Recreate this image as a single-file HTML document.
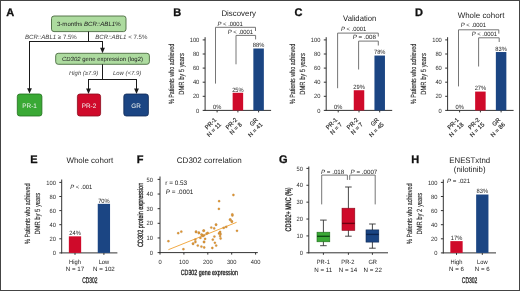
<!DOCTYPE html>
<html><head><meta charset="utf-8"><style>
html,body{margin:0;padding:0;background:#fff;}
body{width:520px;height:291px;overflow:hidden;}
svg{display:block;will-change:transform;font-family:"Liberation Sans",sans-serif;}
</style></head><body>
<svg text-rendering="geometricPrecision" width="520" height="291" viewBox="0 0 520 291">
<rect x="0" y="0" width="520" height="291" fill="#fff"/>
<text x="6.3" y="15.9" font-size="11" text-anchor="start" font-weight="bold" font-style="normal" fill="#111" stroke="#111" stroke-width="0.3">A</text>
<rect x="51.5" y="16" width="74.5" height="15.6" fill="#addb9f" stroke="#4a6a40" stroke-width="0.9" rx="2.5"/>
<text x="88.8" y="26.2" font-size="6.1" text-anchor="middle" fill="#222">3-months <tspan font-style="italic">BCR::ABL1</tspan>%</text>
<line x1="88.5" y1="31.6" x2="88.5" y2="41.5" stroke="#1a1a1a" stroke-width="1"/>
<line x1="29" y1="41.5" x2="103" y2="41.5" stroke="#1a1a1a" stroke-width="1"/>
<line x1="29.5" y1="41.5" x2="29.5" y2="89.6" stroke="#1a1a1a" stroke-width="1"/>
<path d="M27.1,88.19999999999999 L31.9,88.19999999999999 L29.5,93.6 Z" fill="#1a1a1a"/>
<line x1="102.5" y1="41.5" x2="102.5" y2="49.2" stroke="#1a1a1a" stroke-width="1"/>
<path d="M100.1,47.800000000000004 L104.9,47.800000000000004 L102.5,53.2 Z" fill="#1a1a1a"/>
<text x="25" y="39.4" font-size="6.1" fill="#444"><tspan font-style="italic">BCR::ABL1</tspan> ≥ 7.5%</text>
<text x="95.3" y="39.4" font-size="6.1" fill="#444"><tspan font-style="italic">BCR::ABL1</tspan> &lt; 7.5%</text>
<rect x="55.7" y="53.3" width="93.7" height="11" fill="#addb9f" stroke="#4a6a40" stroke-width="0.9" rx="2.5"/>
<text x="102.5" y="61.2" font-size="5.97" text-anchor="middle" fill="#222"><tspan font-style="italic">CD302</tspan> gene expression (log2)</text>
<line x1="102.5" y1="64.3" x2="102.5" y2="79.5" stroke="#1a1a1a" stroke-width="1"/>
<line x1="88" y1="79.5" x2="137" y2="79.5" stroke="#1a1a1a" stroke-width="1"/>
<line x1="88.5" y1="79.5" x2="88.5" y2="89.9" stroke="#1a1a1a" stroke-width="1"/>
<path d="M86.1,88.5 L90.9,88.5 L88.5,93.9 Z" fill="#1a1a1a"/>
<line x1="136.5" y1="79.5" x2="136.5" y2="89.9" stroke="#1a1a1a" stroke-width="1"/>
<path d="M134.1,88.5 L138.9,88.5 L136.5,93.9 Z" fill="#1a1a1a"/>
<text x="69" y="74.8" font-size="5.95" text-anchor="start" font-weight="normal" font-style="italic" fill="#444" >High (≥7.9)</text>
<text x="113" y="74.8" font-size="5.95" text-anchor="start" font-weight="normal" font-style="italic" fill="#444" >Low (&lt;7.9)</text>
<rect x="17.3" y="94" width="24.599999999999998" height="22" fill="#3aa935" stroke="#1f6e1c" stroke-width="0.8" rx="2.5"/>
<text x="29.6" y="107.5" font-size="6.4" text-anchor="middle" font-weight="normal" font-style="normal" fill="#f0f4f0" >PR-1</text>
<rect x="77.4" y="94" width="23.19999999999999" height="22" fill="#cf0a2a" stroke="#8a0a1c" stroke-width="0.8" rx="2.5"/>
<text x="89.0" y="107.5" font-size="6.4" text-anchor="middle" font-weight="normal" font-style="normal" fill="#f0f4f0" >PR-2</text>
<rect x="123.8" y="94" width="24.60000000000001" height="22" fill="#1b4583" stroke="#102a55" stroke-width="0.8" rx="2.5"/>
<text x="136.1" y="107.5" font-size="6.4" text-anchor="middle" font-weight="normal" font-style="normal" fill="#f0f4f0" >GR</text>
<text x="173.2" y="15.9" font-size="11" text-anchor="start" font-weight="bold" font-style="normal" fill="#111" stroke="#111" stroke-width="0.3">B</text>
<text transform="translate(221.4,15.8) scale(0.973,1)" font-size="8.1" text-anchor="start" fill="#222">Discovery</text>
<line x1="205.1" y1="37.2" x2="205.1" y2="110.9" stroke="#333" stroke-width="1"/>
<line x1="202.7" y1="110.4" x2="205.1" y2="110.4" stroke="#333" stroke-width="1"/>
<text transform="translate(199.29999999999998,112.5) scale(0.93,1)" font-size="6.2" text-anchor="end" font-weight="normal" font-style="normal" fill="#2e2e2e" >0</text>
<line x1="202.7" y1="96.30000000000001" x2="205.1" y2="96.30000000000001" stroke="#333" stroke-width="1"/>
<text transform="translate(199.29999999999998,98.4) scale(0.93,1)" font-size="6.2" text-anchor="end" font-weight="normal" font-style="normal" fill="#2e2e2e" >20</text>
<line x1="202.7" y1="82.2" x2="205.1" y2="82.2" stroke="#333" stroke-width="1"/>
<text transform="translate(199.29999999999998,84.3) scale(0.93,1)" font-size="6.2" text-anchor="end" font-weight="normal" font-style="normal" fill="#2e2e2e" >40</text>
<line x1="202.7" y1="68.10000000000001" x2="205.1" y2="68.10000000000001" stroke="#333" stroke-width="1"/>
<text transform="translate(199.29999999999998,70.2) scale(0.93,1)" font-size="6.2" text-anchor="end" font-weight="normal" font-style="normal" fill="#2e2e2e" >60</text>
<line x1="202.7" y1="54.00000000000001" x2="205.1" y2="54.00000000000001" stroke="#333" stroke-width="1"/>
<text transform="translate(199.29999999999998,56.10000000000001) scale(0.93,1)" font-size="6.2" text-anchor="end" font-weight="normal" font-style="normal" fill="#2e2e2e" >80</text>
<line x1="202.7" y1="39.900000000000006" x2="205.1" y2="39.900000000000006" stroke="#333" stroke-width="1"/>
<text transform="translate(199.29999999999998,42.00000000000001) scale(0.93,1)" font-size="6.2" text-anchor="end" font-weight="normal" font-style="normal" fill="#2e2e2e" >100</text>
<line x1="204.6" y1="110.4" x2="271.1" y2="110.4" stroke="#333" stroke-width="1"/>
<line x1="217.1" y1="110.4" x2="217.1" y2="112.4" stroke="#333" stroke-width="1"/>
<line x1="237.89999999999998" y1="110.4" x2="237.89999999999998" y2="112.4" stroke="#333" stroke-width="1"/>
<line x1="258.6" y1="110.4" x2="258.6" y2="112.4" stroke="#333" stroke-width="1"/>
<text transform="translate(217.1,109.2) scale(0.93,1)" font-size="6.2" text-anchor="middle" font-weight="normal" font-style="normal" fill="#222" >0%</text>
<rect x="232.64999999999998" y="92.775" width="10.5" height="17.625" fill="#cf0a2a" stroke="none" stroke-width="0" rx="0"/>
<text transform="translate(237.89999999999998,91.575) scale(0.93,1)" font-size="6.2" text-anchor="middle" font-weight="normal" font-style="normal" fill="#222" >25%</text>
<rect x="253.35000000000002" y="48.50100000000001" width="10.5" height="61.898999999999994" fill="#1b4583" stroke="none" stroke-width="0" rx="0"/>
<text transform="translate(258.6,47.30100000000001) scale(0.93,1)" font-size="6.2" text-anchor="middle" font-weight="normal" font-style="normal" fill="#222" >88%</text>
<g transform="translate(217.1,111.9) rotate(-45)"><text x="-6.0" y="5.6" font-size="6.0" text-anchor="end" fill="#2a2a2a" stroke="#2a2a2a" stroke-width="0.15">PR-1</text><text x="-6.0" y="12.3" font-size="6.0" text-anchor="end" fill="#2a2a2a" stroke="#2a2a2a" stroke-width="0.15">N = 11</text></g>
<g transform="translate(237.89999999999998,111.9) rotate(-45)"><text x="-6.0" y="5.6" font-size="6.0" text-anchor="end" fill="#2a2a2a" stroke="#2a2a2a" stroke-width="0.15">PR-2</text><text x="-6.0" y="12.3" font-size="6.0" text-anchor="end" fill="#2a2a2a" stroke="#2a2a2a" stroke-width="0.15">N = 8</text></g>
<g transform="translate(258.6,111.9) rotate(-45)"><text x="-6.0" y="5.6" font-size="6.0" text-anchor="end" fill="#2a2a2a" stroke="#2a2a2a" stroke-width="0.15">GR</text><text x="-6.0" y="12.3" font-size="6.0" text-anchor="end" fill="#2a2a2a" stroke="#2a2a2a" stroke-width="0.15">N = 41</text></g>
<path d="M215.5,83.6 L215.5,27.3 L255.5,27.3 L255.5,31" stroke="#666" stroke-width="0.9" fill="none"/>
<path d="M236,64.3 L236,35.4 L255.6,35.4 L255.6,39.4" stroke="#666" stroke-width="0.9" fill="none"/>
<text transform="translate(217.5,25.8) scale(0.95,1)" font-size="6.2" fill="#222"><tspan font-style="italic">P</tspan> &lt; .0001</text>
<text transform="translate(227.8,33.8) scale(0.95,1)" font-size="6.2" fill="#222"><tspan font-style="italic">P</tspan> &lt; .0001</text>
<text transform="translate(173.6,73.9) rotate(-90)" font-size="7.5" font-weight="normal" text-anchor="middle" textLength="60.4" lengthAdjust="spacingAndGlyphs" fill="#2a2a2a" stroke="#2a2a2a" stroke-width="0.12">% Patients who achieved</text>
<text transform="translate(183.79999999999998,73.9) rotate(-90)" font-size="7.5" font-weight="normal" text-anchor="middle" textLength="41.5" lengthAdjust="spacingAndGlyphs" fill="#2a2a2a" stroke="#2a2a2a" stroke-width="0.12">DMR by 5 years</text>
<text x="294.6" y="15.9" font-size="11" text-anchor="start" font-weight="bold" font-style="normal" fill="#111" stroke="#111" stroke-width="0.3">C</text>
<text transform="translate(343.1,21.2) scale(0.95,1)" font-size="8.1" text-anchor="start" fill="#222">Validation</text>
<line x1="326.2" y1="37.2" x2="326.2" y2="110.9" stroke="#333" stroke-width="1"/>
<line x1="323.8" y1="110.4" x2="326.2" y2="110.4" stroke="#333" stroke-width="1"/>
<text transform="translate(320.4,112.5) scale(0.93,1)" font-size="6.2" text-anchor="end" font-weight="normal" font-style="normal" fill="#2e2e2e" >0</text>
<line x1="323.8" y1="96.30000000000001" x2="326.2" y2="96.30000000000001" stroke="#333" stroke-width="1"/>
<text transform="translate(320.4,98.4) scale(0.93,1)" font-size="6.2" text-anchor="end" font-weight="normal" font-style="normal" fill="#2e2e2e" >20</text>
<line x1="323.8" y1="82.2" x2="326.2" y2="82.2" stroke="#333" stroke-width="1"/>
<text transform="translate(320.4,84.3) scale(0.93,1)" font-size="6.2" text-anchor="end" font-weight="normal" font-style="normal" fill="#2e2e2e" >40</text>
<line x1="323.8" y1="68.10000000000001" x2="326.2" y2="68.10000000000001" stroke="#333" stroke-width="1"/>
<text transform="translate(320.4,70.2) scale(0.93,1)" font-size="6.2" text-anchor="end" font-weight="normal" font-style="normal" fill="#2e2e2e" >60</text>
<line x1="323.8" y1="54.00000000000001" x2="326.2" y2="54.00000000000001" stroke="#333" stroke-width="1"/>
<text transform="translate(320.4,56.10000000000001) scale(0.93,1)" font-size="6.2" text-anchor="end" font-weight="normal" font-style="normal" fill="#2e2e2e" >80</text>
<line x1="323.8" y1="39.900000000000006" x2="326.2" y2="39.900000000000006" stroke="#333" stroke-width="1"/>
<text transform="translate(320.4,42.00000000000001) scale(0.93,1)" font-size="6.2" text-anchor="end" font-weight="normal" font-style="normal" fill="#2e2e2e" >100</text>
<line x1="325.7" y1="110.4" x2="392.2" y2="110.4" stroke="#333" stroke-width="1"/>
<line x1="338.2" y1="110.4" x2="338.2" y2="112.4" stroke="#333" stroke-width="1"/>
<line x1="359.0" y1="110.4" x2="359.0" y2="112.4" stroke="#333" stroke-width="1"/>
<line x1="379.7" y1="110.4" x2="379.7" y2="112.4" stroke="#333" stroke-width="1"/>
<text transform="translate(338.2,109.2) scale(0.93,1)" font-size="6.2" text-anchor="middle" font-weight="normal" font-style="normal" fill="#222" >0%</text>
<rect x="353.75" y="90.23700000000001" width="10.5" height="20.163" fill="#cf0a2a" stroke="none" stroke-width="0" rx="0"/>
<text transform="translate(359.0,89.037) scale(0.93,1)" font-size="6.2" text-anchor="middle" font-weight="normal" font-style="normal" fill="#222" >29%</text>
<rect x="374.45" y="55.55100000000001" width="10.5" height="54.849" fill="#1b4583" stroke="none" stroke-width="0" rx="0"/>
<text transform="translate(379.7,54.351000000000006) scale(0.93,1)" font-size="6.2" text-anchor="middle" font-weight="normal" font-style="normal" fill="#222" >78%</text>
<g transform="translate(338.2,111.9) rotate(-45)"><text x="-6.0" y="5.6" font-size="6.0" text-anchor="end" fill="#2a2a2a" stroke="#2a2a2a" stroke-width="0.15">PR-1</text><text x="-6.0" y="12.3" font-size="6.0" text-anchor="end" fill="#2a2a2a" stroke="#2a2a2a" stroke-width="0.15">N = 7</text></g>
<g transform="translate(359.0,111.9) rotate(-45)"><text x="-6.0" y="5.6" font-size="6.0" text-anchor="end" fill="#2a2a2a" stroke="#2a2a2a" stroke-width="0.15">PR-2</text><text x="-6.0" y="12.3" font-size="6.0" text-anchor="end" fill="#2a2a2a" stroke="#2a2a2a" stroke-width="0.15">N = 7</text></g>
<g transform="translate(379.7,111.9) rotate(-45)"><text x="-6.0" y="5.6" font-size="6.0" text-anchor="end" fill="#2a2a2a" stroke="#2a2a2a" stroke-width="0.15">GR</text><text x="-6.0" y="12.3" font-size="6.0" text-anchor="end" fill="#2a2a2a" stroke="#2a2a2a" stroke-width="0.15">N = 45</text></g>
<path d="M337.6,88.2 L337.6,33.1 L378.3,33.1 L378.3,36.5" stroke="#666" stroke-width="0.9" fill="none"/>
<path d="M358.6,69.5 L358.6,41.1 L378.3,41.1 L378.3,45.5" stroke="#666" stroke-width="0.9" fill="none"/>
<text transform="translate(341,30.9) scale(0.95,1)" font-size="6.2" fill="#222"><tspan font-style="italic">P</tspan> &lt; .0001</text>
<text transform="translate(352.7,39.1) scale(1.0,1)" font-size="6.2" fill="#222"><tspan font-style="italic">P</tspan> = .008</text>
<text transform="translate(294.7,73.9) rotate(-90)" font-size="7.5" font-weight="normal" text-anchor="middle" textLength="60.4" lengthAdjust="spacingAndGlyphs" fill="#2a2a2a" stroke="#2a2a2a" stroke-width="0.12">% Patients who achieved</text>
<text transform="translate(304.9,73.9) rotate(-90)" font-size="7.5" font-weight="normal" text-anchor="middle" textLength="41.5" lengthAdjust="spacingAndGlyphs" fill="#2a2a2a" stroke="#2a2a2a" stroke-width="0.12">DMR by 5 years</text>
<text x="415" y="15.9" font-size="11" text-anchor="start" font-weight="bold" font-style="normal" fill="#111" stroke="#111" stroke-width="0.3">D</text>
<text transform="translate(457.7,18.2) scale(0.98,1)" font-size="8.1" text-anchor="start" fill="#222">Whole cohort</text>
<line x1="447.6" y1="37.2" x2="447.6" y2="110.9" stroke="#333" stroke-width="1"/>
<line x1="445.20000000000005" y1="110.4" x2="447.6" y2="110.4" stroke="#333" stroke-width="1"/>
<text transform="translate(441.8,112.5) scale(0.93,1)" font-size="6.2" text-anchor="end" font-weight="normal" font-style="normal" fill="#2e2e2e" >0</text>
<line x1="445.20000000000005" y1="96.30000000000001" x2="447.6" y2="96.30000000000001" stroke="#333" stroke-width="1"/>
<text transform="translate(441.8,98.4) scale(0.93,1)" font-size="6.2" text-anchor="end" font-weight="normal" font-style="normal" fill="#2e2e2e" >20</text>
<line x1="445.20000000000005" y1="82.2" x2="447.6" y2="82.2" stroke="#333" stroke-width="1"/>
<text transform="translate(441.8,84.3) scale(0.93,1)" font-size="6.2" text-anchor="end" font-weight="normal" font-style="normal" fill="#2e2e2e" >40</text>
<line x1="445.20000000000005" y1="68.10000000000001" x2="447.6" y2="68.10000000000001" stroke="#333" stroke-width="1"/>
<text transform="translate(441.8,70.2) scale(0.93,1)" font-size="6.2" text-anchor="end" font-weight="normal" font-style="normal" fill="#2e2e2e" >60</text>
<line x1="445.20000000000005" y1="54.00000000000001" x2="447.6" y2="54.00000000000001" stroke="#333" stroke-width="1"/>
<text transform="translate(441.8,56.10000000000001) scale(0.93,1)" font-size="6.2" text-anchor="end" font-weight="normal" font-style="normal" fill="#2e2e2e" >80</text>
<line x1="445.20000000000005" y1="39.900000000000006" x2="447.6" y2="39.900000000000006" stroke="#333" stroke-width="1"/>
<text transform="translate(441.8,42.00000000000001) scale(0.93,1)" font-size="6.2" text-anchor="end" font-weight="normal" font-style="normal" fill="#2e2e2e" >100</text>
<line x1="447.1" y1="110.4" x2="513.6" y2="110.4" stroke="#333" stroke-width="1"/>
<line x1="459.6" y1="110.4" x2="459.6" y2="112.4" stroke="#333" stroke-width="1"/>
<line x1="480.40000000000003" y1="110.4" x2="480.40000000000003" y2="112.4" stroke="#333" stroke-width="1"/>
<line x1="501.1" y1="110.4" x2="501.1" y2="112.4" stroke="#333" stroke-width="1"/>
<text transform="translate(459.6,109.2) scale(0.93,1)" font-size="6.2" text-anchor="middle" font-weight="normal" font-style="normal" fill="#222" >0%</text>
<rect x="475.15000000000003" y="91.57650000000001" width="10.5" height="18.8235" fill="#cf0a2a" stroke="none" stroke-width="0" rx="0"/>
<text transform="translate(480.40000000000003,90.37650000000001) scale(0.93,1)" font-size="6.2" text-anchor="middle" font-weight="normal" font-style="normal" fill="#222" >27%</text>
<rect x="495.85" y="52.02600000000001" width="10.5" height="58.373999999999995" fill="#1b4583" stroke="none" stroke-width="0" rx="0"/>
<text transform="translate(501.1,50.82600000000001) scale(0.93,1)" font-size="6.2" text-anchor="middle" font-weight="normal" font-style="normal" fill="#222" >83%</text>
<g transform="translate(459.6,111.9) rotate(-45)"><text x="-6.0" y="5.6" font-size="6.0" text-anchor="end" fill="#2a2a2a" stroke="#2a2a2a" stroke-width="0.15">PR-1</text><text x="-6.0" y="12.3" font-size="6.0" text-anchor="end" fill="#2a2a2a" stroke="#2a2a2a" stroke-width="0.15">N = 18</text></g>
<g transform="translate(480.40000000000003,111.9) rotate(-45)"><text x="-6.0" y="5.6" font-size="6.0" text-anchor="end" fill="#2a2a2a" stroke="#2a2a2a" stroke-width="0.15">PR-2</text><text x="-6.0" y="12.3" font-size="6.0" text-anchor="end" fill="#2a2a2a" stroke="#2a2a2a" stroke-width="0.15">N = 15</text></g>
<g transform="translate(501.1,111.9) rotate(-45)"><text x="-6.0" y="5.6" font-size="6.0" text-anchor="end" fill="#2a2a2a" stroke="#2a2a2a" stroke-width="0.15">GR</text><text x="-6.0" y="12.3" font-size="6.0" text-anchor="end" fill="#2a2a2a" stroke="#2a2a2a" stroke-width="0.15">N = 86</text></g>
<path d="M458.5,86.4 L458.5,29.8 L498.8,29.8 L498.8,33.6" stroke="#666" stroke-width="0.9" fill="none"/>
<path d="M478.6,66.5 L478.6,37.8 L499.2,37.8 L499.2,42" stroke="#666" stroke-width="0.9" fill="none"/>
<text transform="translate(460.8,27.4) scale(0.95,1)" font-size="6.2" fill="#222"><tspan font-style="italic">P</tspan> &lt; .0001</text>
<text transform="translate(471.7,35.5) scale(0.95,1)" font-size="6.2" fill="#222"><tspan font-style="italic">P</tspan> &lt; .0001</text>
<text transform="translate(416.1,73.9) rotate(-90)" font-size="7.5" font-weight="normal" text-anchor="middle" textLength="60.4" lengthAdjust="spacingAndGlyphs" fill="#2a2a2a" stroke="#2a2a2a" stroke-width="0.12">% Patients who achieved</text>
<text transform="translate(426.3,73.9) rotate(-90)" font-size="7.5" font-weight="normal" text-anchor="middle" textLength="41.5" lengthAdjust="spacingAndGlyphs" fill="#2a2a2a" stroke="#2a2a2a" stroke-width="0.12">DMR by 5 years</text>
<text x="30.3" y="162.5" font-size="11" text-anchor="start" font-weight="bold" font-style="normal" fill="#111" stroke="#111" stroke-width="0.3">E</text>
<text transform="translate(89.8,162.6) scale(0.98,1)" font-size="8.1" text-anchor="middle" fill="#222">Whole cohort</text>
<line x1="61.7" y1="179.5" x2="61.7" y2="253.4" stroke="#333" stroke-width="1"/>
<line x1="59.300000000000004" y1="252.9" x2="61.7" y2="252.9" stroke="#333" stroke-width="1"/>
<text transform="translate(55.900000000000006,255.0) scale(0.93,1)" font-size="6.2" text-anchor="end" font-weight="normal" font-style="normal" fill="#2e2e2e" >0</text>
<line x1="59.300000000000004" y1="238.8" x2="61.7" y2="238.8" stroke="#333" stroke-width="1"/>
<text transform="translate(55.900000000000006,240.9) scale(0.93,1)" font-size="6.2" text-anchor="end" font-weight="normal" font-style="normal" fill="#2e2e2e" >20</text>
<line x1="59.300000000000004" y1="224.70000000000002" x2="61.7" y2="224.70000000000002" stroke="#333" stroke-width="1"/>
<text transform="translate(55.900000000000006,226.8) scale(0.93,1)" font-size="6.2" text-anchor="end" font-weight="normal" font-style="normal" fill="#2e2e2e" >40</text>
<line x1="59.300000000000004" y1="210.60000000000002" x2="61.7" y2="210.60000000000002" stroke="#333" stroke-width="1"/>
<text transform="translate(55.900000000000006,212.70000000000002) scale(0.93,1)" font-size="6.2" text-anchor="end" font-weight="normal" font-style="normal" fill="#2e2e2e" >60</text>
<line x1="59.300000000000004" y1="196.5" x2="61.7" y2="196.5" stroke="#333" stroke-width="1"/>
<text transform="translate(55.900000000000006,198.6) scale(0.93,1)" font-size="6.2" text-anchor="end" font-weight="normal" font-style="normal" fill="#2e2e2e" >80</text>
<line x1="59.300000000000004" y1="182.4" x2="61.7" y2="182.4" stroke="#333" stroke-width="1"/>
<text transform="translate(55.900000000000006,184.5) scale(0.93,1)" font-size="6.2" text-anchor="end" font-weight="normal" font-style="normal" fill="#2e2e2e" >100</text>
<line x1="61.2" y1="252.9" x2="117.4" y2="252.9" stroke="#333" stroke-width="1"/>
<line x1="75" y1="252.9" x2="75" y2="254.9" stroke="#333" stroke-width="1"/>
<rect x="68.85" y="236.3325" width="12.3" height="16.5675" fill="#cf0a2a" stroke="none" stroke-width="0" rx="0"/>
<text transform="translate(75,235.13250000000002) scale(0.93,1)" font-size="6.2" text-anchor="middle" font-weight="normal" font-style="normal" fill="#222" >24%</text>
<line x1="103.9" y1="252.9" x2="103.9" y2="254.9" stroke="#333" stroke-width="1"/>
<rect x="97.75" y="203.83200000000002" width="12.3" height="49.06799999999999" fill="#1b4583" stroke="none" stroke-width="0" rx="0"/>
<text transform="translate(103.9,202.63200000000003) scale(0.93,1)" font-size="6.2" text-anchor="middle" font-weight="normal" font-style="normal" fill="#222" >70%</text>
<text transform="translate(70.3,188.8) scale(0.95,1)" font-size="6.2" fill="#222"><tspan font-style="italic">P</tspan> &lt; .001</text>
<text transform="translate(30.200000000000003,213.7) rotate(-90)" font-size="7.5" font-weight="normal" text-anchor="middle" textLength="60.4" lengthAdjust="spacingAndGlyphs" fill="#2a2a2a" stroke="#2a2a2a" stroke-width="0.12">% Patients who achieved</text>
<text transform="translate(40.400000000000006,213.7) rotate(-90)" font-size="7.5" font-weight="normal" text-anchor="middle" textLength="41.5" lengthAdjust="spacingAndGlyphs" fill="#2a2a2a" stroke="#2a2a2a" stroke-width="0.12">DMR by 5 years</text>
<text transform="translate(75,264.3) scale(0.93,1)" font-size="6.2" text-anchor="middle" font-weight="normal" font-style="normal" fill="#222" >High</text>
<text x="75" y="271.4" font-size="6.2" text-anchor="middle" font-weight="normal" font-style="normal" fill="#222" >N = 17</text>
<text transform="translate(103.9,264.3) scale(0.93,1)" font-size="6.2" text-anchor="middle" font-weight="normal" font-style="normal" fill="#222" >Low</text>
<text x="103.9" y="271.4" font-size="6.2" text-anchor="middle" font-weight="normal" font-style="normal" fill="#222" >N = 102</text>
<text transform="translate(89.9,282.9)" font-size="8.2" font-weight="normal" stroke="#222" stroke-width="0.3" text-anchor="middle" textLength="15.2" lengthAdjust="spacingAndGlyphs" fill="#222">CD302</text>
<text x="411.3" y="162.5" font-size="11" text-anchor="start" font-weight="bold" font-style="normal" fill="#111" stroke="#111" stroke-width="0.3">H</text>
<text transform="translate(469.7,162.6) scale(0.965,1)" font-size="8.1" text-anchor="middle" fill="#222">ENESTxtnd</text>
<text transform="translate(469.7,172.2) scale(0.965,1)" font-size="8.1" text-anchor="middle" fill="#222">(nilotinib)</text>
<line x1="443.3" y1="179.5" x2="443.3" y2="253.4" stroke="#333" stroke-width="1"/>
<line x1="440.90000000000003" y1="252.9" x2="443.3" y2="252.9" stroke="#333" stroke-width="1"/>
<text transform="translate(437.5,255.0) scale(0.93,1)" font-size="6.2" text-anchor="end" font-weight="normal" font-style="normal" fill="#2e2e2e" >0</text>
<line x1="440.90000000000003" y1="238.8" x2="443.3" y2="238.8" stroke="#333" stroke-width="1"/>
<text transform="translate(437.5,240.9) scale(0.93,1)" font-size="6.2" text-anchor="end" font-weight="normal" font-style="normal" fill="#2e2e2e" >20</text>
<line x1="440.90000000000003" y1="224.70000000000002" x2="443.3" y2="224.70000000000002" stroke="#333" stroke-width="1"/>
<text transform="translate(437.5,226.8) scale(0.93,1)" font-size="6.2" text-anchor="end" font-weight="normal" font-style="normal" fill="#2e2e2e" >40</text>
<line x1="440.90000000000003" y1="210.60000000000002" x2="443.3" y2="210.60000000000002" stroke="#333" stroke-width="1"/>
<text transform="translate(437.5,212.70000000000002) scale(0.93,1)" font-size="6.2" text-anchor="end" font-weight="normal" font-style="normal" fill="#2e2e2e" >60</text>
<line x1="440.90000000000003" y1="196.5" x2="443.3" y2="196.5" stroke="#333" stroke-width="1"/>
<text transform="translate(437.5,198.6) scale(0.93,1)" font-size="6.2" text-anchor="end" font-weight="normal" font-style="normal" fill="#2e2e2e" >80</text>
<line x1="440.90000000000003" y1="182.4" x2="443.3" y2="182.4" stroke="#333" stroke-width="1"/>
<text transform="translate(437.5,184.5) scale(0.93,1)" font-size="6.2" text-anchor="end" font-weight="normal" font-style="normal" fill="#2e2e2e" >100</text>
<line x1="442.8" y1="252.9" x2="496" y2="252.9" stroke="#333" stroke-width="1"/>
<line x1="456.5" y1="252.9" x2="456.5" y2="254.9" stroke="#333" stroke-width="1"/>
<rect x="450.35" y="241.12650000000002" width="12.3" height="11.773499999999999" fill="#cf0a2a" stroke="none" stroke-width="0" rx="0"/>
<text transform="translate(456.5,239.92650000000003) scale(0.93,1)" font-size="6.2" text-anchor="middle" font-weight="normal" font-style="normal" fill="#222" >17%</text>
<line x1="482.3" y1="252.9" x2="482.3" y2="254.9" stroke="#333" stroke-width="1"/>
<rect x="476.15000000000003" y="194.526" width="12.3" height="58.373999999999995" fill="#1b4583" stroke="none" stroke-width="0" rx="0"/>
<text transform="translate(482.3,193.32600000000002) scale(0.93,1)" font-size="6.2" text-anchor="middle" font-weight="normal" font-style="normal" fill="#222" >83%</text>
<text transform="translate(447,182.7) scale(1.0,1)" font-size="6.2" fill="#222"><tspan font-style="italic">P</tspan> = .021</text>
<text transform="translate(411.8,213.7) rotate(-90)" font-size="7.5" font-weight="normal" text-anchor="middle" textLength="60.4" lengthAdjust="spacingAndGlyphs" fill="#2a2a2a" stroke="#2a2a2a" stroke-width="0.12">% Patients who achieved</text>
<text transform="translate(422.0,213.7) rotate(-90)" font-size="7.5" font-weight="normal" text-anchor="middle" textLength="41.5" lengthAdjust="spacingAndGlyphs" fill="#2a2a2a" stroke="#2a2a2a" stroke-width="0.12">DMR by 2 years</text>
<text transform="translate(456.5,264.3) scale(0.93,1)" font-size="6.2" text-anchor="middle" font-weight="normal" font-style="normal" fill="#222" >High</text>
<text x="456.5" y="271.4" font-size="6.2" text-anchor="middle" font-weight="normal" font-style="normal" fill="#222" >N = 6</text>
<text transform="translate(482.3,264.3) scale(0.93,1)" font-size="6.2" text-anchor="middle" font-weight="normal" font-style="normal" fill="#222" >Low</text>
<text x="482.3" y="271.4" font-size="6.2" text-anchor="middle" font-weight="normal" font-style="normal" fill="#222" >N = 6</text>
<text transform="translate(469.6,282.9)" font-size="8.2" font-weight="normal" stroke="#222" stroke-width="0.3" text-anchor="middle" textLength="15.6" lengthAdjust="spacingAndGlyphs" fill="#222">CD302</text>
<text x="136.7" y="162.6" font-size="11" text-anchor="start" font-weight="bold" font-style="normal" fill="#111" stroke="#111" stroke-width="0.3">F</text>
<text transform="translate(209.2,162.5) scale(0.995,1)" font-size="8.1" text-anchor="middle" fill="#222">CD302 correlation</text>
<line x1="160.0" y1="176.5" x2="160.0" y2="253.1" stroke="#333" stroke-width="1"/>
<line x1="157.6" y1="252.6" x2="160.0" y2="252.6" stroke="#333" stroke-width="1"/>
<text transform="translate(153.0,254.7) scale(0.93,1)" font-size="6.2" text-anchor="end" font-weight="normal" font-style="normal" fill="#2e2e2e" >0</text>
<line x1="157.6" y1="237.95999999999998" x2="160.0" y2="237.95999999999998" stroke="#333" stroke-width="1"/>
<text transform="translate(153.0,240.05999999999997) scale(0.93,1)" font-size="6.2" text-anchor="end" font-weight="normal" font-style="normal" fill="#2e2e2e" >10</text>
<line x1="157.6" y1="223.32" x2="160.0" y2="223.32" stroke="#333" stroke-width="1"/>
<text transform="translate(153.0,225.42) scale(0.93,1)" font-size="6.2" text-anchor="end" font-weight="normal" font-style="normal" fill="#2e2e2e" >20</text>
<line x1="157.6" y1="208.68" x2="160.0" y2="208.68" stroke="#333" stroke-width="1"/>
<text transform="translate(153.0,210.78) scale(0.93,1)" font-size="6.2" text-anchor="end" font-weight="normal" font-style="normal" fill="#2e2e2e" >30</text>
<line x1="157.6" y1="194.04" x2="160.0" y2="194.04" stroke="#333" stroke-width="1"/>
<text transform="translate(153.0,196.14) scale(0.93,1)" font-size="6.2" text-anchor="end" font-weight="normal" font-style="normal" fill="#2e2e2e" >40</text>
<line x1="157.6" y1="179.39999999999998" x2="160.0" y2="179.39999999999998" stroke="#333" stroke-width="1"/>
<text transform="translate(153.0,181.49999999999997) scale(0.93,1)" font-size="6.2" text-anchor="end" font-weight="normal" font-style="normal" fill="#2e2e2e" >50</text>
<line x1="159.5" y1="252.6" x2="257.8" y2="252.6" stroke="#333" stroke-width="1"/>
<line x1="160.0" y1="252.6" x2="160.0" y2="254.6" stroke="#333" stroke-width="1"/>
<text transform="translate(160.0,264.0) scale(0.93,1)" font-size="6.2" text-anchor="middle" font-weight="normal" font-style="normal" fill="#2e2e2e" >0</text>
<line x1="183.9" y1="252.6" x2="183.9" y2="254.6" stroke="#333" stroke-width="1"/>
<text transform="translate(183.9,264.0) scale(0.93,1)" font-size="6.2" text-anchor="middle" font-weight="normal" font-style="normal" fill="#2e2e2e" >100</text>
<line x1="207.8" y1="252.6" x2="207.8" y2="254.6" stroke="#333" stroke-width="1"/>
<text transform="translate(207.8,264.0) scale(0.93,1)" font-size="6.2" text-anchor="middle" font-weight="normal" font-style="normal" fill="#2e2e2e" >200</text>
<line x1="231.7" y1="252.6" x2="231.7" y2="254.6" stroke="#333" stroke-width="1"/>
<text transform="translate(231.7,264.0) scale(0.93,1)" font-size="6.2" text-anchor="middle" font-weight="normal" font-style="normal" fill="#2e2e2e" >300</text>
<line x1="255.6" y1="252.6" x2="255.6" y2="254.6" stroke="#333" stroke-width="1"/>
<text transform="translate(255.6,264.0) scale(0.93,1)" font-size="6.2" text-anchor="middle" font-weight="normal" font-style="normal" fill="#2e2e2e" >400</text>
<line x1="168.4" y1="249.7" x2="236.6" y2="222.3" stroke="#f0a030" stroke-width="0.9"/>
<circle cx="168.4" cy="241.2" r="1.15" fill="#e2962f" stroke="#9a7a55" stroke-width="0.2"/>
<circle cx="178.2" cy="233.2" r="1.15" fill="#e2962f" stroke="#9a7a55" stroke-width="0.2"/>
<circle cx="181.3" cy="231.7" r="1.15" fill="#e2962f" stroke="#9a7a55" stroke-width="0.2"/>
<circle cx="183.4" cy="249.2" r="1.15" fill="#e2962f" stroke="#9a7a55" stroke-width="0.2"/>
<circle cx="193.1" cy="243.8" r="1.15" fill="#e2962f" stroke="#9a7a55" stroke-width="0.2"/>
<circle cx="195.4" cy="242" r="1.15" fill="#e2962f" stroke="#9a7a55" stroke-width="0.2"/>
<circle cx="196" cy="232" r="1.15" fill="#e2962f" stroke="#9a7a55" stroke-width="0.2"/>
<circle cx="198.8" cy="232.7" r="1.15" fill="#e2962f" stroke="#9a7a55" stroke-width="0.2"/>
<circle cx="197.8" cy="245.6" r="1.15" fill="#e2962f" stroke="#9a7a55" stroke-width="0.2"/>
<circle cx="201.4" cy="246.6" r="1.15" fill="#e2962f" stroke="#9a7a55" stroke-width="0.2"/>
<circle cx="200.4" cy="237.9" r="1.15" fill="#e2962f" stroke="#9a7a55" stroke-width="0.2"/>
<circle cx="201.9" cy="234.8" r="1.15" fill="#e2962f" stroke="#9a7a55" stroke-width="0.2"/>
<circle cx="204" cy="235.3" r="1.15" fill="#e2962f" stroke="#9a7a55" stroke-width="0.2"/>
<circle cx="203.5" cy="230.7" r="1.15" fill="#e2962f" stroke="#9a7a55" stroke-width="0.2"/>
<circle cx="204" cy="242" r="1.15" fill="#e2962f" stroke="#9a7a55" stroke-width="0.2"/>
<circle cx="196.1" cy="231.7" r="1.15" fill="#e2962f" stroke="#9a7a55" stroke-width="0.2"/>
<circle cx="198.9" cy="233" r="1.15" fill="#e2962f" stroke="#9a7a55" stroke-width="0.2"/>
<circle cx="203.9" cy="230.7" r="1.15" fill="#e2962f" stroke="#9a7a55" stroke-width="0.2"/>
<circle cx="201.5" cy="234.6" r="1.15" fill="#e2962f" stroke="#9a7a55" stroke-width="0.2"/>
<circle cx="203" cy="236.1" r="1.15" fill="#e2962f" stroke="#9a7a55" stroke-width="0.2"/>
<circle cx="205.1" cy="238.9" r="1.15" fill="#e2962f" stroke="#9a7a55" stroke-width="0.2"/>
<circle cx="204.1" cy="242" r="1.15" fill="#e2962f" stroke="#9a7a55" stroke-width="0.2"/>
<circle cx="206.6" cy="233.6" r="1.15" fill="#e2962f" stroke="#9a7a55" stroke-width="0.2"/>
<circle cx="207.7" cy="233" r="1.15" fill="#e2962f" stroke="#9a7a55" stroke-width="0.2"/>
<circle cx="211.3" cy="227.6" r="1.15" fill="#e2962f" stroke="#9a7a55" stroke-width="0.2"/>
<circle cx="214.2" cy="228.4" r="1.15" fill="#e2962f" stroke="#9a7a55" stroke-width="0.2"/>
<circle cx="216.1" cy="224.8" r="1.15" fill="#e2962f" stroke="#9a7a55" stroke-width="0.2"/>
<circle cx="214.4" cy="236.6" r="1.15" fill="#e2962f" stroke="#9a7a55" stroke-width="0.2"/>
<circle cx="212.8" cy="239.7" r="1.15" fill="#e2962f" stroke="#9a7a55" stroke-width="0.2"/>
<circle cx="214.9" cy="242.8" r="1.15" fill="#e2962f" stroke="#9a7a55" stroke-width="0.2"/>
<circle cx="220.1" cy="232" r="1.15" fill="#e2962f" stroke="#9a7a55" stroke-width="0.2"/>
<circle cx="220.6" cy="234.1" r="1.15" fill="#e2962f" stroke="#9a7a55" stroke-width="0.2"/>
<circle cx="220.1" cy="236.1" r="1.15" fill="#e2962f" stroke="#9a7a55" stroke-width="0.2"/>
<circle cx="220.6" cy="238.5" r="1.15" fill="#e2962f" stroke="#9a7a55" stroke-width="0.2"/>
<circle cx="219" cy="233.6" r="1.15" fill="#e2962f" stroke="#9a7a55" stroke-width="0.2"/>
<circle cx="223.7" cy="227.9" r="1.15" fill="#e2962f" stroke="#9a7a55" stroke-width="0.2"/>
<circle cx="226.2" cy="226.9" r="1.15" fill="#e2962f" stroke="#9a7a55" stroke-width="0.2"/>
<circle cx="230.4" cy="219.6" r="1.15" fill="#e2962f" stroke="#9a7a55" stroke-width="0.2"/>
<circle cx="231.9" cy="221.7" r="1.15" fill="#e2962f" stroke="#9a7a55" stroke-width="0.2"/>
<circle cx="232.4" cy="215.5" r="1.15" fill="#e2962f" stroke="#9a7a55" stroke-width="0.2"/>
<circle cx="195.3" cy="239.7" r="1.15" fill="#e2962f" stroke="#9a7a55" stroke-width="0.2"/>
<circle cx="193" cy="243.7" r="1.15" fill="#e2962f" stroke="#9a7a55" stroke-width="0.2"/>
<circle cx="233.4" cy="195" r="1.15" fill="#e2962f" stroke="#9a7a55" stroke-width="0.2"/>
<circle cx="219.1" cy="201.2" r="1.15" fill="#e2962f" stroke="#9a7a55" stroke-width="0.2"/>
<circle cx="218.9" cy="208.9" r="1.15" fill="#e2962f" stroke="#9a7a55" stroke-width="0.2"/>
<circle cx="232.3" cy="214.4" r="1.15" fill="#e2962f" stroke="#9a7a55" stroke-width="0.2"/>
<circle cx="230" cy="219.7" r="1.15" fill="#e2962f" stroke="#9a7a55" stroke-width="0.2"/>
<circle cx="231.8" cy="221.5" r="1.15" fill="#e2962f" stroke="#9a7a55" stroke-width="0.2"/>
<circle cx="237" cy="230.8" r="1.15" fill="#e2962f" stroke="#9a7a55" stroke-width="0.2"/>
<circle cx="216" cy="224.6" r="1.15" fill="#e2962f" stroke="#9a7a55" stroke-width="0.2"/>
<circle cx="219.6" cy="232.8" r="1.15" fill="#e2962f" stroke="#9a7a55" stroke-width="0.2"/>
<circle cx="204.2" cy="247.5" r="1.15" fill="#e2962f" stroke="#9a7a55" stroke-width="0.2"/>
<circle cx="216.2" cy="245.6" r="1.15" fill="#e2962f" stroke="#9a7a55" stroke-width="0.2"/>
<circle cx="212.3" cy="248" r="1.15" fill="#e2962f" stroke="#9a7a55" stroke-width="0.2"/>
<text x="165.3" y="185.0" font-size="6.4" text-anchor="start" font-weight="normal" font-style="normal" fill="#222" >r = 0.53</text>
<text transform="translate(165.8,194.1) scale(1.0,1)" font-size="6.4" fill="#222"><tspan font-style="italic">P</tspan> = .0001</text>
<text transform="translate(209.3,275.3)" font-size="7.6" font-weight="normal" stroke="#222" stroke-width="0.3" text-anchor="middle" textLength="57.2" lengthAdjust="spacingAndGlyphs" fill="#222">CD302 gene expression</text>
<text transform="translate(143.4,214.9) rotate(-90)" font-size="7.6" font-weight="normal" stroke="#222" stroke-width="0.3" text-anchor="middle" textLength="64.4" lengthAdjust="spacingAndGlyphs" fill="#222">CD302 protein expression</text>
<text x="279" y="162.5" font-size="11" text-anchor="start" font-weight="bold" font-style="normal" fill="#111" stroke="#111" stroke-width="0.3">G</text>
<line x1="308.8" y1="166.5" x2="308.8" y2="253.3" stroke="#333" stroke-width="1"/>
<line x1="306.40000000000003" y1="252.8" x2="308.8" y2="252.8" stroke="#333" stroke-width="1"/>
<text transform="translate(303.0,254.9) scale(0.93,1)" font-size="6.2" text-anchor="end" font-weight="normal" font-style="normal" fill="#2e2e2e" >0</text>
<line x1="306.40000000000003" y1="235.92000000000002" x2="308.8" y2="235.92000000000002" stroke="#333" stroke-width="1"/>
<text transform="translate(303.0,238.02) scale(0.93,1)" font-size="6.2" text-anchor="end" font-weight="normal" font-style="normal" fill="#2e2e2e" >10</text>
<line x1="306.40000000000003" y1="219.04000000000002" x2="308.8" y2="219.04000000000002" stroke="#333" stroke-width="1"/>
<text transform="translate(303.0,221.14000000000001) scale(0.93,1)" font-size="6.2" text-anchor="end" font-weight="normal" font-style="normal" fill="#2e2e2e" >20</text>
<line x1="306.40000000000003" y1="202.16000000000003" x2="308.8" y2="202.16000000000003" stroke="#333" stroke-width="1"/>
<text transform="translate(303.0,204.26000000000002) scale(0.93,1)" font-size="6.2" text-anchor="end" font-weight="normal" font-style="normal" fill="#2e2e2e" >30</text>
<line x1="306.40000000000003" y1="185.28000000000003" x2="308.8" y2="185.28000000000003" stroke="#333" stroke-width="1"/>
<text transform="translate(303.0,187.38000000000002) scale(0.93,1)" font-size="6.2" text-anchor="end" font-weight="normal" font-style="normal" fill="#2e2e2e" >40</text>
<line x1="306.40000000000003" y1="168.40000000000003" x2="308.8" y2="168.40000000000003" stroke="#333" stroke-width="1"/>
<text transform="translate(303.0,170.50000000000003) scale(0.93,1)" font-size="6.2" text-anchor="end" font-weight="normal" font-style="normal" fill="#2e2e2e" >50</text>
<line x1="308.3" y1="252.8" x2="388" y2="252.8" stroke="#333" stroke-width="1"/>
<line x1="323.4" y1="252.8" x2="323.4" y2="254.8" stroke="#333" stroke-width="1"/>
<line x1="323.4" y1="220.1" x2="323.4" y2="245.7" stroke="#333" stroke-width="0.9"/>
<line x1="320.09999999999997" y1="220.1" x2="326.7" y2="220.1" stroke="#333" stroke-width="0.9"/>
<line x1="320.09999999999997" y1="245.7" x2="326.7" y2="245.7" stroke="#333" stroke-width="0.9"/>
<rect x="317.0" y="232.2" width="12.8" height="9.600000000000023" fill="#3aa935" stroke="#1f6e1c" stroke-width="0.6" rx="0"/>
<line x1="317.0" y1="236.3" x2="329.79999999999995" y2="236.3" stroke="#0d4a12" stroke-width="1.4"/>
<line x1="348.4" y1="252.8" x2="348.4" y2="254.8" stroke="#333" stroke-width="1"/>
<line x1="348.4" y1="187" x2="348.4" y2="236.2" stroke="#333" stroke-width="0.9"/>
<line x1="345.09999999999997" y1="187" x2="351.7" y2="187" stroke="#333" stroke-width="0.9"/>
<line x1="345.09999999999997" y1="236.2" x2="351.7" y2="236.2" stroke="#333" stroke-width="0.9"/>
<rect x="342.0" y="208.2" width="12.8" height="22.200000000000017" fill="#cf0a2a" stroke="#8a0a1c" stroke-width="0.6" rx="0"/>
<line x1="342.0" y1="223.4" x2="354.79999999999995" y2="223.4" stroke="#6e0010" stroke-width="1.4"/>
<line x1="372.4" y1="252.8" x2="372.4" y2="254.8" stroke="#333" stroke-width="1"/>
<line x1="372.4" y1="224.0" x2="372.4" y2="248.2" stroke="#333" stroke-width="0.9"/>
<line x1="369.09999999999997" y1="224.0" x2="375.7" y2="224.0" stroke="#333" stroke-width="0.9"/>
<line x1="369.09999999999997" y1="248.2" x2="375.7" y2="248.2" stroke="#333" stroke-width="0.9"/>
<rect x="366.0" y="229.9" width="12.8" height="12.199999999999989" fill="#1b4583" stroke="#102a55" stroke-width="0.6" rx="0"/>
<line x1="366.0" y1="234.4" x2="378.79999999999995" y2="234.4" stroke="#0c2550" stroke-width="1.4"/>
<path d="M321.7,204.4 L321.7,175.1 L347.4,175.1 L347.4,179.9" stroke="#666" stroke-width="0.9" fill="none"/>
<path d="M349.7,179.9 L349.7,175.1 L375.2,175.1 L375.2,204.4" stroke="#666" stroke-width="0.9" fill="none"/>
<text transform="translate(321,173.8) scale(1.0,1)" font-size="6.2" fill="#222"><tspan font-style="italic">P</tspan> = .018</text>
<text transform="translate(350.6,173.8) scale(1.0,1)" font-size="6.2" fill="#222"><tspan font-style="italic">P</tspan> = .0007</text>
<text transform="translate(323.3,263.9) scale(0.93,1)" font-size="6.2" text-anchor="middle" font-weight="normal" font-style="normal" fill="#222" >PR-1</text>
<text x="323.3" y="271.9" font-size="6.2" text-anchor="middle" font-weight="normal" font-style="normal" fill="#222" >N = 11</text>
<text transform="translate(347.9,263.9) scale(0.93,1)" font-size="6.2" text-anchor="middle" font-weight="normal" font-style="normal" fill="#222" >PR-2</text>
<text x="347.9" y="271.9" font-size="6.2" text-anchor="middle" font-weight="normal" font-style="normal" fill="#222" >N = 14</text>
<text transform="translate(372.7,263.9) scale(0.93,1)" font-size="6.2" text-anchor="middle" font-weight="normal" font-style="normal" fill="#222" >GR</text>
<text x="372.7" y="271.9" font-size="6.2" text-anchor="middle" font-weight="normal" font-style="normal" fill="#222" >N = 22</text>
<text transform="translate(290.8,209.4) rotate(-90)" font-size="8.0" font-weight="normal" stroke="#222" stroke-width="0.3" text-anchor="middle" textLength="44.0" lengthAdjust="spacingAndGlyphs" fill="#222">CD302+ MNC (%)</text>
<rect x="0.5" y="0.5" width="519" height="290" fill="none" stroke="#444" stroke-width="1"/>
</svg>
</body></html>
